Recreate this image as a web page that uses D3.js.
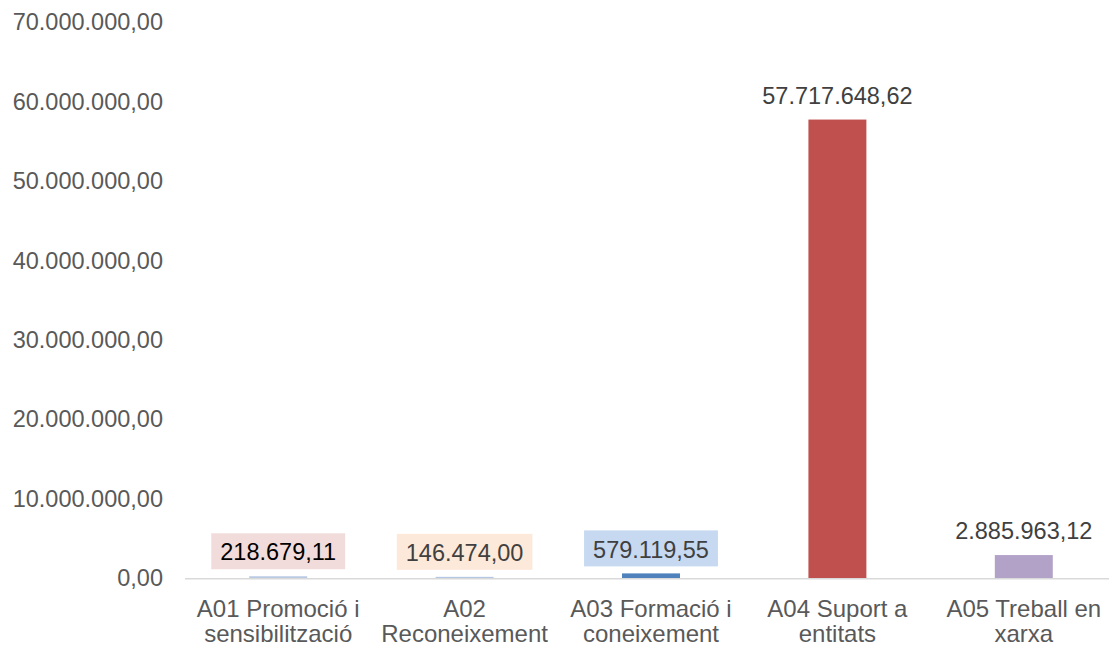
<!DOCTYPE html>
<html>
<head>
<meta charset="utf-8">
<script src="https://cdn.jsdelivr.net/npm/d3@7"></script>
<style>
  body { margin: 0; background: #fff; }
  svg { display: block; font-family: "Liberation Sans", Arial, sans-serif; }
</style>
</head>
<body>
<svg width="1109" height="648"></svg>
<script>
const categories = [
  ['A01 Promoció i', 'sensibilització'],
  ['A02', 'Reconeixement'],
  ['A03 Formació i', 'coneixement'],
  ['A04 Suport a', 'entitats'],
  ['A05 Treball en', 'xarxa']
];
const values = [218679.11, 146474.00, 579119.55, 57717648.62, 2885963.12];
const barColors = ['#b9cbe4', '#b4c7e3', '#4f81bd', '#c0504d', '#b2a2c7'];
const labelBoxes = ['#f2dcdb', '#fde9d9', '#c6d9f1', null, null];
const labelColors = ['#000000', '#404040', '#404040', '#404040', '#404040'];
const yTicks = [0, 10e6, 20e6, 30e6, 40e6, 50e6, 60e6, 70e6];

const locale = d3.formatLocale({ decimal: ',', thousands: '.', grouping: [3], currency: ['', '€'] });
const fmt = locale.format(',.2f');

const svg = d3.select('svg');
// plot runs past the right edge of the picture, like the original crop
const plotLeft = 185, plotRight = 1117, plotTop = 22, plotBottom = 578;

const x = d3.scaleBand()
  .domain(d3.range(values.length))
  .range([plotLeft, plotRight])
  .paddingInner(0.689)
  .paddingOuter(0.3445);

const y = d3.scaleLinear()
  .domain([0, 70e6])
  .range([plotBottom, plotTop]);

// y tick labels (no axis line)
svg.append('g')
  .selectAll('text')
  .data(yTicks)
  .join('text')
  .attr('x', 163)
  .attr('y', d => y(d))
  .attr('dy', '0.35em')
  .attr('text-anchor', 'end')
  .attr('fill', '#595959')
  .style('font-size', '23.5px')
  .text(d => fmt(d));

// bars
svg.append('g')
  .selectAll('rect')
  .data(values)
  .join('rect')
  .attr('x', (d, i) => x(i))
  .attr('y', d => y(d))
  .attr('width', x.bandwidth())
  .attr('height', d => y(0) - y(d))
  .attr('fill', (d, i) => barColors[i]);

// baseline
svg.append('line')
  .attr('x1', plotLeft).attr('x2', plotRight)
  .attr('y1', y(0) + 0.75).attr('y2', y(0) + 0.75)
  .attr('stroke', '#d9d9d9')
  .attr('stroke-width', 1.5);

// data labels
const labels = svg.append('g')
  .selectAll('g')
  .data(values)
  .join('g')
  .attr('transform', (d, i) => `translate(${x(i) + x.bandwidth() / 2},${y(d) - 24})`);

labels.each(function (d, i) {
  const g = d3.select(this);
  const t = g.append('text')
    .attr('text-anchor', 'middle')
    .attr('dy', '0.35em')
    .attr('fill', labelColors[i])
    .style('font-size', '23.5px')
    .text(fmt(d));
  if (labelBoxes[i]) {
    const w = t.node().getComputedTextLength() + 18;
    g.insert('rect', 'text')
      .attr('x', -w / 2)
      .attr('y', -19)
      .attr('width', w)
      .attr('height', 36)
      .attr('fill', labelBoxes[i]);
  }
});

// category labels
svg.append('g')
  .selectAll('text')
  .data(categories)
  .join('text')
  .attr('x', (d, i) => x(i) + x.bandwidth() / 2)
  .attr('y', 609)
  .attr('text-anchor', 'middle')
  .attr('fill', '#595959')
  .style('font-size', '24px')
  .each(function (d) {
    d3.select(this).selectAll('tspan')
      .data(d)
      .join('tspan')
      .attr('x', d3.select(this).attr('x'))
      .attr('dy', (l, j) => j === 0 ? '0.35em' : '24.5px')
      .text(l => l);
  });
</script>
</body>
</html>
